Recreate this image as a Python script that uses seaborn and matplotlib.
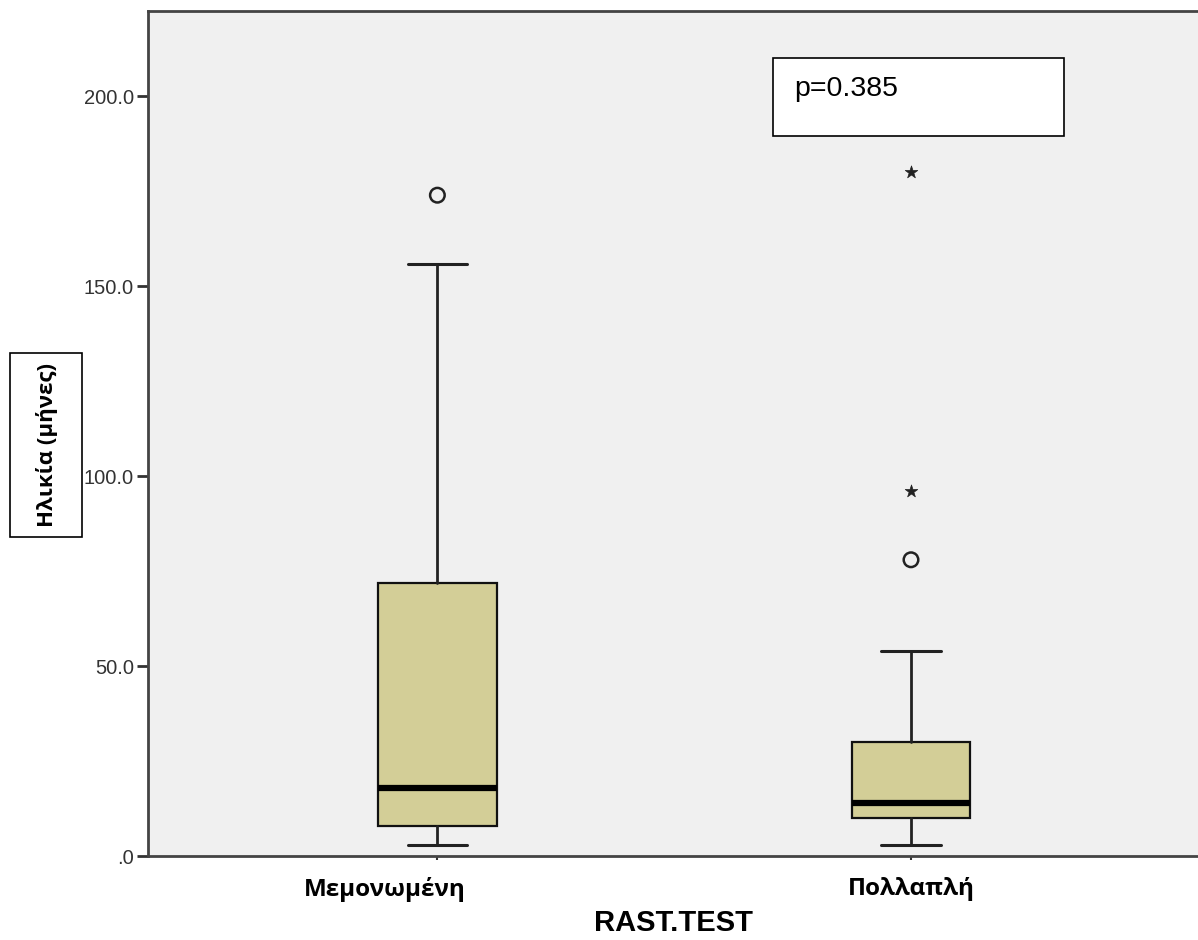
import matplotlib
matplotlib.use("Agg")
import matplotlib.pyplot as plt
import seaborn as sns
import numpy as np
from matplotlib.patches import Rectangle
from matplotlib.transforms import ScaledTranslation

# ---- data ----
categories = ["Μεμονωμένη", "Πολλαπλή"]
whisker_low = [3, 3]
q1 = [8, 10]
median = [18, 14]
q3 = [72, 30]
whisker_high = [156, 54]
outlier_cat = ["Μεμονωμένη", "Πολλαπλή"]
outlier_val = [174, 78]
extreme_cat = ["Πολλαπλή", "Πολλαπλή"]
extreme_val = [96, 180]
yticks = [0, 50, 100, 150, 200]
ytick_labels = [".0", "50.0", "100.0", "150.0", "200.0"]
p_text = "p=0.385"
y_label = "Ηλικία (μήνες)"
x_label = "RAST.TEST"

sns.set_style("white")
plt.rcParams['font.family'] = ['Liberation Sans', 'DejaVu Sans']
plt.rcParams['text.color'] = 'black'

W, H = 1198, 940
fig = plt.figure(figsize=(W / 100, H / 100), dpi=100)
ax = fig.add_axes([148 / W, 1 - 856 / H, 1 - 148 / W, (856 - 11) / H])
ax.set_facecolor("#F0F0F0")

stats = [dict(label=c, whislo=wl, q1=a, med=m, q3=b, whishi=wh, fliers=[])
         for c, wl, a, m, b, wh in zip(categories, whisker_low, q1, median, q3, whisker_high)]
positions = list(range(len(categories)))
ax.bxp(stats, positions=positions, widths=0.25, capwidths=0.125, patch_artist=True,
       showfliers=False,
       boxprops=dict(facecolor="#D3CE97", edgecolor="#111111", linewidth=1.6),
       medianprops=dict(color="black", linewidth=4.5, solid_capstyle="butt"),
       whiskerprops=dict(color="#222222", linewidth=2),
       capprops=dict(color="#222222", linewidth=2.2))

ox = [categories.index(c) for c in outlier_cat]
ex = [categories.index(c) for c in extreme_cat]
sns.scatterplot(x=ox, y=outlier_val, ax=ax, marker="o", s=110, facecolor="none",
                edgecolor="#222222", linewidth=1.8, zorder=5, legend=False)
sns.scatterplot(x=ex, y=extreme_val, ax=ax, marker="*", s=90, color="#222222",
                edgecolor="#222222", linewidth=0.5, zorder=5, legend=False)

ax.set_xlim(-0.611, 1.606)
ax.set_ylim(0, 222.5)
ax.set_yticks(yticks)
ax.set_yticklabels(ytick_labels, fontsize=14.5, color="#333333")
ax.set_xticks(positions)
ax.set_xticklabels(categories, fontsize=17.5, fontweight="bold", color="black",
                   family=["Open Sans", "DejaVu Sans"])
ax.tick_params(axis="y", length=8, width=2, color="#333333", pad=2, left=True)
ax.tick_params(axis="x", length=3, width=1.5, color="#333333", pad=12, bottom=True)
ax.set_xlabel("")
ax.set_ylabel("")
for side in ["left", "bottom", "top"]:
    ax.spines[side].set_visible(True)
    ax.spines[side].set_color("#444444")
    ax.spines[side].set_linewidth(2)
ax.spines["right"].set_visible(False)

# the first category label sits left of its box in the reference
lbl0 = ax.get_xticklabels()[0]
lbl0.set_transform(lbl0.get_transform() + ScaledTranslation(-0.53, 0, fig.dpi_scale_trans))

# y label in a box
fig.patches.append(Rectangle((10 / W, 1 - 537 / H), 72 / W, 184 / H, transform=fig.transFigure,
                             facecolor="white", edgecolor="black", linewidth=1.2, zorder=1))
fig.text(47 / W, 1 - 445 / H, y_label, rotation=90, ha="center", va="center", color="black",
         fontsize=16, fontweight="bold", family=["Open Sans", "DejaVu Sans"], zorder=2)

# p value box
fig.patches.append(Rectangle((773 / W, 1 - 136 / H), 291 / W, 78 / H, transform=fig.transFigure,
                             facecolor="white", edgecolor="black", linewidth=1.2, zorder=3))
fig.text(794 / W, 1 - 96 / H, p_text, ha="left", va="baseline", fontsize=20.5, color="black",
         zorder=4)

# x axis title
fig.text(674 / W, 1 - 923 / H, x_label, ha="center", va="center", fontsize=21,
         fontweight="bold", color="black")

fig.savefig("out.png", dpi=100)
